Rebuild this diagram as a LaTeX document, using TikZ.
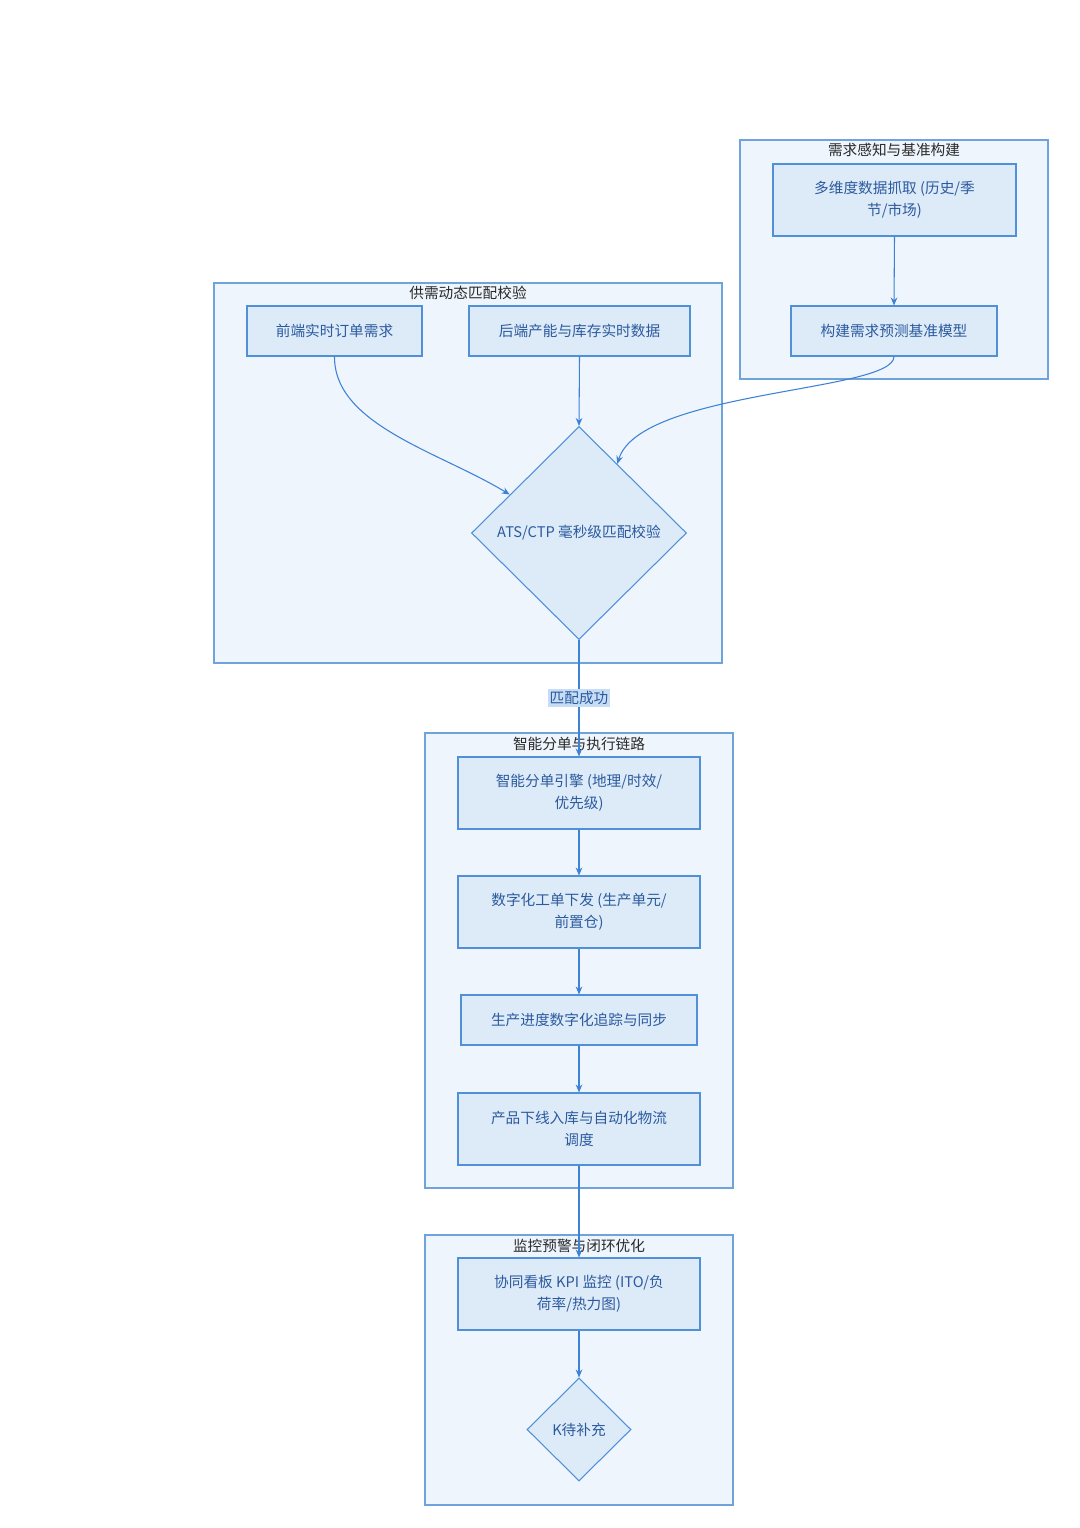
\documentclass[tikz,border=0pt]{standalone}
\usepackage{fontspec}
\setmainfont{Noto Sans CJK SC}
\usetikzlibrary{shapes.geometric,arrows.meta}
\definecolor{clfill}{HTML}{EEF5FC}
\definecolor{cldraw}{HTML}{6FA3DC}
\definecolor{ndfill}{HTML}{DDEBF8}
\definecolor{nddraw}{HTML}{5090D8}
\definecolor{ndtext}{HTML}{2C5A9E}
\definecolor{titletext}{HTML}{2A2A2A}
\definecolor{edgecol}{HTML}{3E82D6}
\definecolor{lblbg}{HTML}{C6DDF5}
\begin{document}
\begin{tikzpicture}[x=0.75pt,y=-0.75pt,
  cluster/.style={draw=cldraw,fill=clfill,line width=0.8pt,inner sep=0pt},
  ctitle/.style={text=titletext,font=\fontsize{11}{13}\selectfont,inner sep=1pt},
  box/.style={draw=nddraw,fill=ndfill,line width=0.8pt,text=ndtext,align=center,
    font=\fontsize{11}{16.5}\selectfont,inner sep=2pt},
  dia/.style={diamond,draw=nddraw,fill=ndfill,line width=0.8pt,text=ndtext,align=center,
    font=\fontsize{11}{16.5}\selectfont,inner sep=0pt},
  arr/.style={draw=edgecol,line width=0.8pt,-{Stealth[length=6pt,width=5pt]}},
  lbl/.style={fill=lblbg,text=ndtext,font=\fontsize{11}{13}\selectfont,inner sep=1.5pt}]
\useasboundingbox[fill=white] (0,0) rectangle (1080,1528);

% clusters
\node[cluster,minimum width=231pt,minimum height=179.25pt] (c1) at (894,259.5) {};
\node[ctitle] (t1) at (894,150) {需求感知与基准构建};
\node[cluster,minimum width=381pt,minimum height=285pt] (c2) at (468,473) {};
\node[ctitle] (t2) at (468,293) {供需动态匹配校验};
\node[cluster,minimum width=231pt,minimum height=341.25pt] (c3) at (579,960.5) {};
\node[ctitle] (t3) at (579,744) {智能分单与执行链路};
\node[cluster,minimum width=231pt,minimum height=202.5pt] (c4) at (579,1370) {};
\node[ctitle] (t4) at (579,1246) {监控预警与闭环优化};

% nodes
\node[box,minimum width=182.25pt,minimum height=54pt] (A) at (894.5,200) {多维度数据抓取 (历史/季\\节/市场)};
\node[box,minimum width=154.5pt,minimum height=37.5pt] (B) at (894,331) {构建需求预测基准模型};
\node[box,minimum width=131.25pt,minimum height=37.5pt] (C) at (334.5,331) {前端实时订单需求};
\node[box,minimum width=165.75pt,minimum height=37.5pt] (D) at (579.5,331) {后端产能与库存实时数据};
\node[dia,minimum width=161.25pt,minimum height=159.75pt] (E) at (579,533) {ATS/CTP 毫秒级匹配校验};
\node[box,minimum width=181.5pt,minimum height=54pt] (F) at (579,793) {智能分单引擎 (地理/时效/\\优先级)};
\node[box,minimum width=181.5pt,minimum height=54pt] (G) at (579,912) {数字化工单下发 (生产单元/\\前置仓)};
\node[box,minimum width=177pt,minimum height=37.5pt] (H) at (579,1020) {生产进度数字化追踪与同步};
\node[box,minimum width=181.5pt,minimum height=54pt] (I) at (579,1129) {产品下线入库与自动化物流\\调度};
\node[box,minimum width=181.5pt,minimum height=54pt] (J) at (579,1294) {协同看板 KPI 监控 (ITO/负\\荷率/热力图)};
\node[dia,minimum width=78pt,minimum height=77.25pt] (K) at (579,1429.5) {K待补充};

% edges
\draw[arr] (A.south) -- (B.north);
\draw[arr] (B.south) .. controls (894,392) and (640,390) .. (E.61.5);
\draw[arr] (C.south) .. controls (334,425) and (440,452) .. (E.151.8);
\draw[arr] (D.south) -- (E.north);
\draw[arr] (E.south) -- node[lbl] (m) {匹配成功} (F.north);
\draw[arr] (F.south) -- (G.north);
\draw[arr] (G.south) -- (H.north);
\draw[arr] (H.south) -- (I.north);
\draw[arr] (I.south) -- (J.north);
\draw[arr] (J.south) -- (K.north);
\end{tikzpicture}
\end{document}
